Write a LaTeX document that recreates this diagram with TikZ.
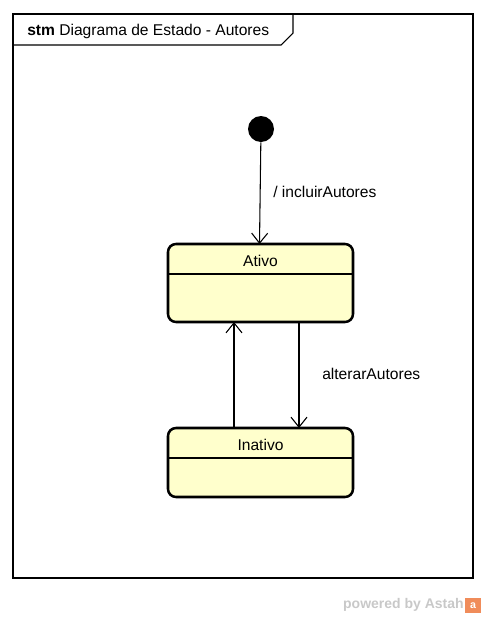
\documentclass[tikz,border=0pt]{standalone}
\usepackage{fontspec}
\setmainfont{Liberation Sans}
\usetikzlibrary{arrows.meta}
\definecolor{stfill}{RGB}{255,255,204}
\definecolor{astahgray}{RGB}{200,200,200}
\definecolor{astahorange}{RGB}{240,140,90}
\begin{document}
\begin{tikzpicture}[x=0.75pt,y=-0.75pt,
  txt/.style={font=\fontsize{11.7pt}{14pt}\selectfont, inner sep=0pt},
  statebox/.style={draw=black, line width=1.9pt, fill=stfill, rounded corners=6pt, inner sep=0pt},
  trans/.style={draw=black, line width=0.8pt, -{Straight Barb[length=7.5pt,width=12pt,line width=0.8pt]}},
  frameline/.style={draw=black, line width=0.8pt}]
\useasboundingbox (0,0) rectangle (486,618);
% frame
\draw[frameline] (13,14) rectangle (473,578);
\draw[frameline] (13,45) -- (281,45) -- (293,33) -- (293,14);
\node[txt, anchor=west] (title) at (27,31) {\textbf{stm} Diagrama de Estado - Autores};
% initial
\node[circle, fill=black, minimum size=26*0.75pt, inner sep=0pt] (init) at (261,129) {};
% states
\path[statebox] (168,244) rectangle (353,322);
\draw[line width=0.8pt] (168,274) -- (353,274);
\node[txt] (ativo) at (260.5,261) {Ativo};
\path[statebox] (168,428) rectangle (353,497);
\draw[line width=0.8pt] (168,458) -- (353,458);
\node[txt] (inativo) at (260.5,445) {Inativo};
\coordinate (ativoTop) at (259.5,244);
\coordinate (ativoBotR) at (299,322);
\coordinate (ativoBotL) at (234,322);
\coordinate (inTopR) at (299,428);
\coordinate (inTopL) at (234,428);
% transitions
\draw[trans] (init) -- (ativoTop);
\node[txt, anchor=west] (lbl1) at (273,192) {/ incluirAutores};
\draw[trans] (ativoBotR) -- (inTopR);
\draw[trans] (inTopL) -- (ativoBotL);
\node[txt, anchor=west] (lbl2) at (322,374) {alterarAutores};
% watermark
\node[anchor=east, inner sep=0pt, text=astahgray, font=\fontsize{10.5pt}{12pt}\selectfont\bfseries] (wm) at (464,605) {powered by Astah};
\fill[astahorange] (465,598) rectangle (481,613);
\node[inner sep=0pt, text=white, font=\fontsize{8pt}{8pt}\selectfont\bfseries] (wmicon) at (473,606) {a};
\end{tikzpicture}
\end{document}
